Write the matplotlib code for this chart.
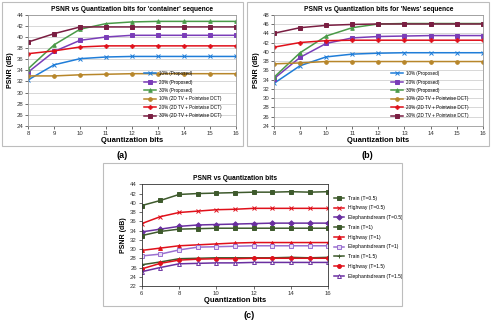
import matplotlib.pyplot as plt
from matplotlib.patches import Rectangle

plt.rcParams['font.family'] = ['Liberation Sans', 'DejaVu Sans']

# panel (a) and (b): quantization bits 8..16
bits_ab = [8, 9, 10, 11, 12, 13, 14, 15, 16]
labels_ab = ["10% (Proposed)", "20% (Proposed)", "30% (Proposed)",
             "10% (2D TV + Pointwise DCT)", "20% (2D TV + Pointwise DCT)",
             "30% (2D TV + Pointwise DCT)"]

container_10p = [32.3, 35.0, 36.1, 36.4, 36.5, 36.5, 36.5, 36.5, 36.5]
container_20p = [33.7, 37.4, 39.4, 40.0, 40.3, 40.3, 40.3, 40.3, 40.3]
container_30p = [34.3, 38.6, 41.4, 42.4, 42.7, 42.8, 42.8, 42.8, 42.8]
container_10t = [33.0, 33.0, 33.2, 33.3, 33.4, 33.4, 33.4, 33.4, 33.4]
container_20t = [37.0, 37.5, 38.2, 38.4, 38.4, 38.4, 38.4, 38.4, 38.4]
container_30t = [39.1, 40.6, 41.8, 41.8, 41.8, 41.8, 41.8, 41.8, 41.8]

news_10p = [33.2, 37.0, 38.9, 39.5, 39.7, 39.8, 39.8, 39.8, 39.8]
news_20p = [34.2, 38.8, 41.8, 43.0, 43.3, 43.4, 43.5, 43.5, 43.5]
news_30p = [34.5, 39.8, 43.4, 45.2, 46.0, 46.1, 46.1, 46.1, 46.1]
news_10t = [37.4, 37.6, 37.9, 37.9, 37.9, 37.9, 37.9, 37.9, 37.9]
news_20t = [41.0, 42.0, 42.4, 42.5, 42.5, 42.5, 42.5, 42.5, 42.5]
news_30t = [44.0, 45.2, 45.7, 45.9, 46.0, 46.0, 46.0, 46.0, 46.0]

# panel (c): quantization bits 6..16
bits_c = [6, 7, 8, 9, 10, 11, 12, 13, 14, 15, 16]
labels_c = ["Train (T=0.5)", "Highway (T=0.5)", "Elephantsdream (T=0.5)",
            "Train (T=1)", "Highway (T=1)", "Elephantsdream (T=1)",
            "Train (T=1.5)", "Highway (T=1.5)", "Elephantsdream (T=1.5)"]
train_05 = [39.4, 40.5, 41.8, 42.0, 42.1, 42.2, 42.3, 42.3, 42.4, 42.3, 42.4]
highway_05 = [35.5, 37.0, 37.9, 38.2, 38.5, 38.6, 38.8, 38.8, 38.8, 38.8, 38.8]
eleph_05 = [33.7, 34.3, 34.9, 35.2, 35.3, 35.4, 35.5, 35.6, 35.6, 35.6, 35.6]
train_1 = [32.9, 33.8, 34.3, 34.4, 34.5, 34.5, 34.5, 34.5, 34.5, 34.5, 34.5]
highway_1 = [29.7, 30.2, 30.7, 30.9, 31.1, 31.3, 31.4, 31.4, 31.4, 31.4, 31.4]
eleph_1 = [28.5, 28.9, 29.8, 30.4, 30.5, 30.6, 30.7, 30.7, 30.7, 30.7, 30.7]
train_15 = [26.6, 27.2, 27.9, 28.0, 28.1, 28.1, 28.1, 28.1, 28.2, 28.1, 28.2]
highway_15 = [25.7, 26.9, 27.6, 27.8, 27.9, 27.9, 28.0, 28.0, 28.0, 28.0, 28.0]
eleph_15 = [25.1, 26.0, 26.8, 26.9, 27.0, 27.0, 27.1, 27.1, 27.1, 27.1, 27.1]

ab_styles = [("#1F7DD8", "x", "#1F7DD8"), ("#7A3DB8", "s", "#7A3DB8"),
             ("#4A9A48", "^", "#4A9A48"), ("#B7862A", "o", "#B7862A"),
             ("#E0101A", "P", "#E0101A"), ("#7A1E42", "s", "#7A1E42")]
c_styles = [("#3E5A2C", "s", "#3E5A2C"), ("#E0101A", "x", "#E0101A"),
            ("#6A2FA0", "D", "#6A2FA0"), ("#3E5A2C", "s", "#3E5A2C"),
            ("#E0101A", "^", "#E0101A"), ("#9A70D0", "s", "#E6DDF5"),
            ("#3E5A2C", "+", "#3E5A2C"), ("#E0101A", "o", "#E0101A"),
            ("#6A2FA0", "^", "white")]

W, H = 491, 327
fig = plt.figure(figsize=(W / 100, H / 100), dpi=100)


def box(x0, y0, x1, y1):
    fig.patches.append(Rectangle((x0 / W, 1 - y1 / H), (x1 - x0) / W, (y1 - y0) / H,
                                 transform=fig.transFigure, fill=False,
                                 edgecolor="#BDBDBD", linewidth=0.8))


def style_axes(ax, grid):
    ax.tick_params(labelsize=4.3, length=2, width=0.5, pad=1.5, colors="#333333")
    for s in ax.spines.values():
        s.set_linewidth(0.6)
        s.set_color("#999999" if grid else "#333333")
    if grid:
        ax.grid(axis="y", color="#C8C8C8", linewidth=0.5)
        ax.set_axisbelow(True)
    ax.set_ylabel("PSNR (dB)", fontsize=5, fontweight="bold", labelpad=2)
    ax.set_xlabel("Quantization bits", fontsize=5.5, fontweight="bold", labelpad=0.5)


def panel_ab(rect, series, title, ylim):
    ax = fig.add_axes(rect)
    for ys, lab, (c, m, fc) in zip(series, labels_ab, ab_styles):
        ax.plot(bits_ab, ys, color=c, marker=m, markerfacecolor=fc, markersize=2.6,
                markeredgewidth=0.7, linewidth=1.1, label=lab)
    ax.set_xlim(8, 16)
    ax.set_ylim(*ylim)
    ax.set_xticks(bits_ab)
    ax.set_yticks(range(ylim[0], ylim[1] + 1, 2))
    ax.set_title(title, fontsize=4.8, fontweight="bold", pad=2.5)
    style_axes(ax, True)
    ax.legend(loc="lower right", fontsize=3.3, frameon=False, handlelength=2.5,
              labelspacing=0.75, borderaxespad=0.8, bbox_to_anchor=(0.96, 0.02))
    return ax


box(2, 2, 243, 146)
box(247, 2, 489, 146)
box(103, 163, 402, 306)

panel_ab([28.3 / W, 1 - 126 / H, 207.4 / W, 111.3 / H],
         [container_10p, container_20p, container_30p,
          container_10t, container_20t, container_30t],
         "PSNR vs Quantization bits for 'container' sequence", (24, 44))
panel_ab([274 / W, 1 - 126 / H, 208.7 / W, 111.3 / H],
         [news_10p, news_20p, news_30p, news_10t, news_20t, news_30t],
         "PSNR vs Quantization bits for 'News' sequence", (24, 48))

axc = fig.add_axes([141.7 / W, 1 - 286 / H, 186.6 / W, 101.7 / H])
series_c = [train_05, highway_05, eleph_05, train_1, highway_1, eleph_1,
            train_15, highway_15, eleph_15]
for ys, lab, (c, m, fc) in zip(series_c, labels_c, c_styles):
    axc.plot(bits_c, ys, color=c, marker=m, markerfacecolor=fc, markersize=2.8,
             markeredgewidth=0.7, linewidth=1.1, label=lab)
axc.set_xlim(6, 16)
axc.set_ylim(22, 44)
axc.set_xticks(range(6, 17, 2))
axc.set_yticks(range(22, 45, 2))
axc.set_title("PSNR vs Quantization bits", fontsize=4.8, fontweight="bold", pad=3)
style_axes(axc, False)
axc.legend(loc="center left", bbox_to_anchor=(1.02, 0.48), fontsize=3.6, frameon=False,
           handlelength=2.0, labelspacing=0.95, borderaxespad=0)

fig.text(122 / W, 1 - 155 / H, "(a)", fontsize=6.5, fontweight="bold", ha="center", va="center")
fig.text(367 / W, 1 - 155 / H, "(b)", fontsize=6.5, fontweight="bold", ha="center", va="center")
fig.text(249 / W, 1 - 316 / H, "(c)", fontsize=6.5, fontweight="bold", ha="center", va="center")

fig.savefig("out.png", dpi=100)
